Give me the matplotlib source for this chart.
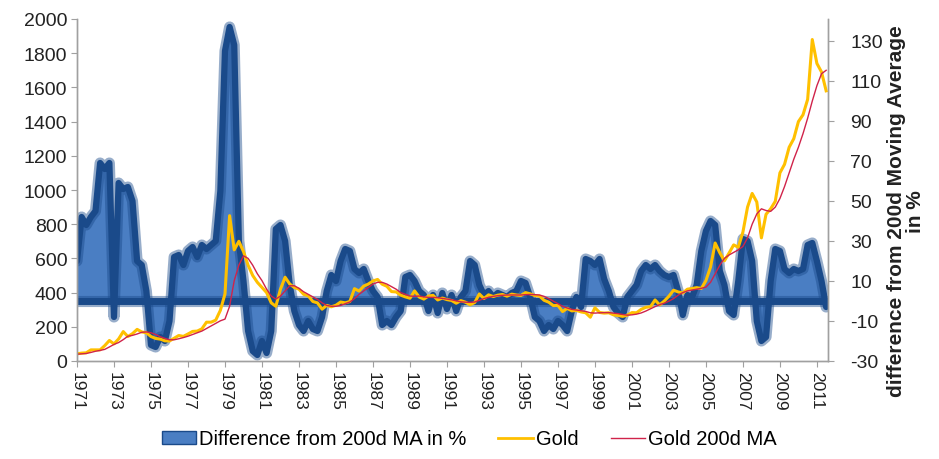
import numpy as np
import matplotlib
matplotlib.use("Agg")
import matplotlib.pyplot as plt
from matplotlib.patches import Patch
from matplotlib.lines import Line2D

plt.rcParams['font.family'] = ['Liberation Sans', 'DejaVu Sans']

# quarterly points, chart years 1971.00 .. 2011.50
start_year = 1971.0
step = 0.25

gold = [
    42, 46, 48, 65,
    65, 65, 90, 120,
    100, 129, 172, 143,
    160, 185, 170, 165,
    143, 132, 128, 118,
    117, 133, 149, 144,
    158, 173, 175, 188,
    227, 227, 239, 296,
    392, 850, 650, 700,
    640, 560, 500, 460,
    430, 400, 340, 320,
    420, 490, 450, 430,
    420, 390, 381, 348,
    340, 303, 325, 317,
    326, 345, 340, 348,
    423, 409, 438, 450,
    468, 477, 449, 437,
    406, 404, 385, 375,
    367, 410, 374, 362,
    380, 384, 357, 368,
    359, 354, 338, 353,
    344, 329, 342, 392,
    365, 387, 377, 385,
    389, 379, 391, 386,
    383, 400, 393, 383,
    380, 355, 344, 324,
    325, 289, 308, 293,
    296, 287, 282, 256,
    311, 284, 280, 282,
    270, 266, 261, 268,
    283, 282, 302, 314,
    317, 357, 328, 351,
    379, 414, 404, 398,
    420, 424, 429, 424,
    470, 550, 690, 633,
    586, 631, 679, 665,
    754, 900, 980, 930,
    720, 858, 890, 934,
    1100, 1150, 1250, 1300,
    1400, 1440, 1530, 1880,
    1740, 1690, 1580,
]

gold_ma = [
    40, 42, 44, 50,
    57, 62, 68, 82,
    97, 108, 125, 145,
    150, 158, 168, 170,
    165, 155, 142, 132,
    124, 124, 130, 137,
    145, 155, 165, 175,
    190, 205, 220, 235,
    245, 320, 470, 560,
    615, 600, 560, 510,
    470, 420, 380, 362,
    380, 410, 440, 440,
    425, 405, 390, 375,
    360, 340, 325, 320,
    320, 325, 335, 345,
    365, 390, 410, 430,
    450, 460, 460, 450,
    435, 420, 400, 390,
    380, 378, 380, 375,
    372, 372, 370, 366,
    362, 358, 352, 346,
    344, 343, 345, 355,
    365, 372, 378, 382,
    384, 386, 386, 386,
    386, 388, 389, 388,
    386, 378, 365, 350,
    335, 320, 310, 302,
    298, 294, 290, 282,
    280, 282, 283, 283,
    280, 277, 272, 268,
    270, 274, 281, 292,
    305, 318, 330, 338,
    350, 365, 385, 400,
    410, 415, 420, 425,
    432, 460, 510, 560,
    600, 620, 635, 650,
    670, 720, 800, 860,
    890, 880, 875, 900,
    950, 1020, 1100, 1180,
    1250, 1330, 1420, 1520,
    1610, 1680, 1700,
]

diff_pct = [
    20, 42, 38, 42,
    45, 69, 66, 69,
    -8, 59, 56, 57,
    50, 20, 18, 5,
    -22, -23, -18, -20,
    -10, 22, 23, 18,
    25, 27, 22, 28,
    26, 28, 30, 55,
    125, 137, 128, 30,
    10, -15, -25, -27,
    -20, -26, -15, 36,
    38, 30, 8, -5,
    -12, -15, -10, -14,
    -15, -8, 5, 13,
    10, 20, 26, 25,
    16, 14, 16, 10,
    5, 2, -12, -10,
    -12, -8, -5, 12,
    13, 10, 5, 3,
    -5, 3, -6, 4,
    -4, 3, -5, 2,
    5, 20, 18, 8,
    3, 5, 2, 4,
    3, 2, 4, 5,
    10, 9, 2, -8,
    -10, -15, -12, -14,
    -10, -12, -15, -5,
    2, -3, 21, 20,
    18, 21, 11, 5,
    -3, -6, -8, 2,
    5, 8, 15, 18,
    16, 18, 15, 13,
    12, 13, 5, -7,
    3, 2, 8, 25,
    35, 40, 38, 15,
    8, -5, -7, 10,
    31, 30, 20, -10,
    -20, -18, 10, 26,
    25, 16, 14, 16,
    15, 16, 28, 29,
    20, 10, -3,
]

year_ticks = list(range(1971, 2012, 2))
left_ticks = list(range(0, 2001, 200))
right_ticks = list(range(-30, 131, 20))

x = start_year + step * np.arange(len(gold))

fig = plt.figure(figsize=(9.39, 4.60), dpi=100)
ax = fig.add_axes([77/939, 98/460, (828-77)/939, (362-20)/460])
ax2 = ax.twinx()
ax.set_zorder(ax2.get_zorder() + 1)
ax.patch.set_visible(False)

# difference area on right axis
dcol_fill = '#4a7ec3'
dcol_edge = '#1a4a8a'
ax2.fill_between(x, 0, diff_pct, color=dcol_fill, lw=0)
ax2.plot(x, diff_pct, color=dcol_edge, lw=8, alpha=0.45, solid_capstyle='round')
ax2.plot(x, diff_pct, color=dcol_edge, lw=4.5, alpha=1.0, solid_capstyle='round')
ax2.plot([x[0], x[-1]], [0, 0], color=dcol_edge, lw=8, alpha=0.45)
ax2.plot([x[0], x[-1]], [0, 0], color=dcol_edge, lw=5)

# gold lines on left axis
ax.plot(x, gold, color='#ffc000', lw=2.2)
ax.plot(x, gold_ma, color='#d0234a', lw=1.0)

ax.set_xlim(1971, 2011.6)
ax.set_ylim(0, 2000)
ax2.set_ylim(-30, 141)

ax.set_yticks(left_ticks)
ax.set_yticklabels([str(v) for v in left_ticks], fontsize=14, color='#222222')
ax2.set_yticks(right_ticks)
ax2.set_yticklabels([str(v) for v in right_ticks], fontsize=14, color='#222222')
ax.set_xticks(year_ticks)
ax.set_xticklabels([str(v) for v in year_ticks], rotation=270, fontsize=12.5, color='#222222')

for a in (ax, ax2):
    a.spines['top'].set_visible(False)
    for s in ('left', 'right', 'bottom'):
        a.spines[s].set_color('#a0a0a0')
        a.spines[s].set_linewidth(1)
ax.tick_params(axis='both', length=4, color='#a0a0a0', pad=3)
ax2.tick_params(axis='y', length=4, color='#a0a0a0', pad=12)

ax2.set_ylabel('difference from 200d Moving Average\nin %', fontsize=15,
               fontweight='bold', color='#222222', linespacing=1.0)
ax2.yaxis.set_label_coords((887 - 77) / 751, 0.44)

handles = [
    Patch(facecolor=dcol_fill, edgecolor=dcol_edge, lw=1),
    Line2D([0], [0], color='#ffc000', lw=2),
    Line2D([0], [0], color='#d0234a', lw=1),
]
labels = ['Difference from 200d MA in %', 'Gold', 'Gold 200d MA']
fig.legend(handles, labels, loc='center', bbox_to_anchor=(469/939, 1 - 440/460),
           ncol=3, frameon=False, fontsize=14.5, handlelength=1.7, handleheight=0.6,
           columnspacing=1.6, handletextpad=0.15)

fig.savefig('out.png', dpi=100, facecolor='white')
